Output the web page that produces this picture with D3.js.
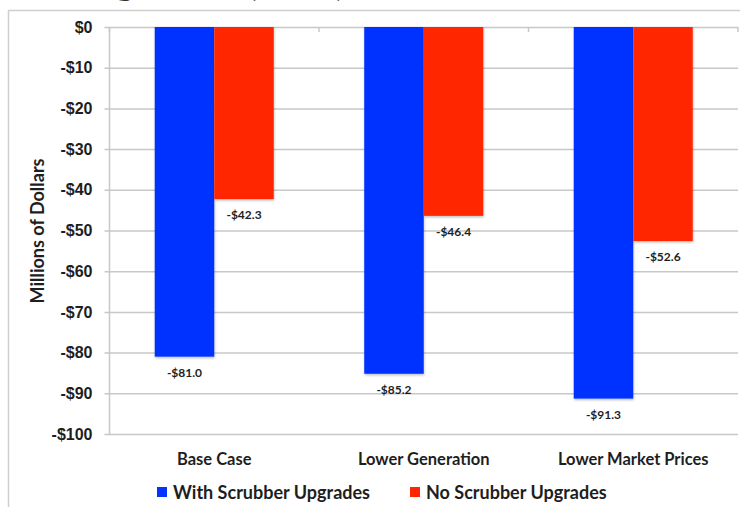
<!DOCTYPE html>
<html>
<head>
<meta charset="utf-8">
<script src="https://cdn.jsdelivr.net/npm/d3@7"></script>
<style>
  html, body { margin: 0; padding: 0; background: #fff; }
  svg { display: block; font-family: Lato, "Open Sans", sans-serif; }
</style>
</head>
<body>
<svg id="chart" width="740" height="507"></svg>
<script>
// Scenario categories and the two option series (millions of dollars)
const categories = ["Base Case", "Lower Generation", "Lower Market Prices"];
const seriesNames = ["With Scrubber Upgrades", "No Scrubber Upgrades"];
const withScrubber = [-81.0, -85.2, -91.3];
const noScrubber = [-42.3, -46.4, -52.6];
const yTicks = [0, -10, -20, -30, -40, -50, -60, -70, -80, -90, -100];
const colors = ["#0433FF", "#FF2600"];
const titleText = "Savings NPV (Cost) of the Scrubber Decision";

const svg = d3.select("#chart");
const W = 740, H = 507;

const data = categories.map((c, i) => ({
  category: c,
  values: [
    { series: seriesNames[0], value: withScrubber[i] },
    { series: seriesNames[1], value: noScrubber[i] }
  ]
}));

// Title line above the chart frame (runs off the top edge)
const title = svg.append("text")
  .attr("x", 0)
  .attr("y", -5)
  .attr("font-size", 38)
  .attr("font-weight", 700)
  .attr("fill", "#333")
  .text(titleText);
// shift so the title's "g" starts near x = 115
const gIdx = titleText.indexOf("g");
const gOffset = title.node().getSubStringLength(0, gIdx);
title.attr("x", 115 - gOffset);

// Chart frame
svg.append("path")
  .attr("d", `M8.5,${H + 2} L8.5,10.5 L${W + 2},10.5`)
  .attr("fill", "none")
  .attr("stroke", "#cfcfcf")
  .attr("stroke-width", 1.5);

const plotLeft = 109.5, plotRight = 738, plotTop = 27, plotBottom = 434;

const y = d3.scaleLinear().domain([-100, 0]).range([plotBottom, plotTop]);
const x0 = d3.scaleBand().domain(categories).range([plotLeft, plotRight]).padding(0);
const x1 = d3.scaleBand().domain(seriesNames).range([0, x0.bandwidth()])
  .paddingInner(0).paddingOuter(0.76);
const color = d3.scaleOrdinal().domain(seriesNames).range(colors);

// Horizontal gridlines with left ticks
const yAxis = d3.axisLeft(y)
  .tickValues(yTicks)
  .tickSize(-(plotRight - plotLeft) - 5)
  .tickPadding(12)
  .tickFormat(d => (d < 0 ? "-$" : "$") + Math.abs(d));

const gy = svg.append("g")
  .attr("transform", `translate(${plotLeft - 5},0)`)
  .call(yAxis);
gy.select(".domain").remove();
gy.selectAll(".tick line")
  .attr("stroke", "#c8c8c8")
  .attr("stroke-width", 1.5);
gy.selectAll(".tick text")
  .attr("font-size", 16)
  .attr("font-weight", 700)
  .attr("fill", "#1e1e1e");

// Vertical axis line
svg.append("line")
  .attr("x1", plotLeft).attr("x2", plotLeft)
  .attr("y1", plotTop).attr("y2", plotBottom)
  .attr("stroke", "#c8c8c8")
  .attr("stroke-width", 1.5);

// Category axis sits on the zero line; ticks at band boundaries
const bounds = categories.map(c => x0(c)).concat([plotRight]);
svg.append("g").selectAll("line")
  .data(bounds)
  .join("line")
  .attr("x1", d => d).attr("x2", d => d)
  .attr("y1", y(0)).attr("y2", y(0) + 5)
  .attr("stroke", "#c8c8c8")
  .attr("stroke-width", 1.5);

// Category labels below the plot
svg.append("g").selectAll("text")
  .data(categories)
  .join("text")
  .attr("x", d => x0(d) + x0.bandwidth() / 2)
  .attr("y", 465)
  .attr("text-anchor", "middle")
  .attr("font-size", 16.5)
  .attr("font-weight", 700)
  .attr("fill", "#1e1e1e")
  .text(d => d);

// Bars
const defs = svg.append("defs");
const f = defs.append("filter").attr("id", "shadow")
  .attr("x", "-10%").attr("y", "-10%").attr("width", "130%").attr("height", "130%");
f.append("feDropShadow")
  .attr("dx", 0.5).attr("dy", 1.5).attr("stdDeviation", 1)
  .attr("flood-color", "#000").attr("flood-opacity", 0.25);

const groups = svg.append("g").selectAll("g")
  .data(data)
  .join("g")
  .attr("transform", d => `translate(${x0(d.category)},0)`);

groups.selectAll("rect")
  .data(d => d.values)
  .join("rect")
  .attr("x", d => x1(d.series))
  .attr("y", y(0))
  .attr("width", x1.bandwidth())
  .attr("height", d => y(d.value) - y(0))
  .attr("fill", d => color(d.series))
  .attr("filter", "url(#shadow)");

// Value labels under each bar end
groups.selectAll("text.val")
  .data(d => d.values)
  .join("text")
  .attr("class", "val")
  .attr("x", d => x1(d.series) + x1.bandwidth() / 2)
  .attr("y", d => y(d.value) + 20)
  .attr("text-anchor", "middle")
  .attr("font-size", 12)
  .attr("font-weight", 700)
  .attr("fill", "#1e1e1e")
  .text(d => "-$" + Math.abs(d.value).toFixed(1));

// Y axis title
svg.append("text")
  .attr("transform", `translate(44,231) rotate(-90)`)
  .attr("text-anchor", "middle")
  .attr("font-size", 18)
  .attr("font-weight", 700)
  .attr("fill", "#1e1e1e")
  .text("Millions of Dollars");

// Legend
const legendX = [157, 410];
const legend = svg.append("g").selectAll("g")
  .data(seriesNames)
  .join("g")
  .attr("transform", (d, i) => `translate(${legendX[i]},487)`);
legend.append("rect")
  .attr("width", 10).attr("height", 10)
  .attr("fill", d => color(d));
legend.append("text")
  .attr("x", 16)
  .attr("y", 12)
  .attr("font-size", 18)
  .attr("font-weight", 700)
  .attr("fill", "#1e1e1e")
  .text(d => d);
</script>
</body>
</html>
